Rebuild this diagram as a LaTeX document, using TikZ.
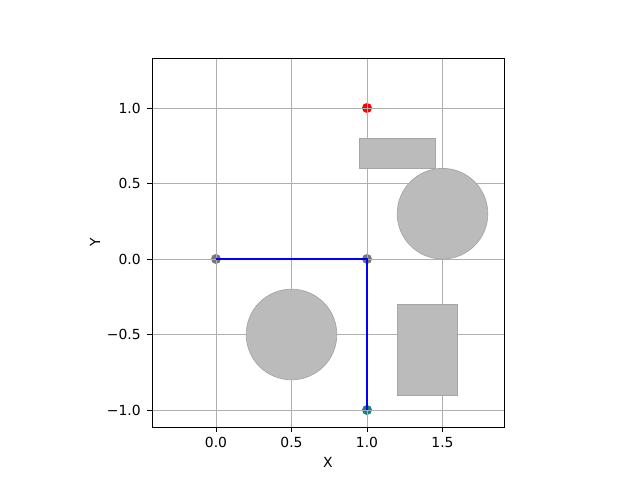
\documentclass[tikz,border=0pt]{standalone}
\usepackage{fontspec}
\setmainfont{DejaVu Sans}
\definecolor{gridgray}{HTML}{B0B0B0}
\definecolor{obsfill}{HTML}{BBBBBB}
\definecolor{obsedge}{HTML}{A6A6A6}
\definecolor{wpgray}{HTML}{767676}
\definecolor{startteal}{HTML}{1A7F80}

\begin{document}
\begin{tikzpicture}[x=3.02cm,y=3.02cm,font=\fontsize{7.9}{9.5}\selectfont]

  \tikzstyle{gridline}=[draw=gridgray,line width=0.45pt]
  \tikzstyle{spine}=[draw=black,line width=0.45pt]
  \tikzstyle{obstacle}=[fill=obsfill,draw=obsedge,line width=0.4pt]
  \tikzstyle{waypoint}=[circle,inner sep=0pt,minimum size=0.2cm]
  \tikzstyle{route}=[draw=blue,line width=0.85pt]
  \tikzstyle{ticklabel}=[inner sep=0pt]

  \useasboundingbox (-1.4305,-1.4636) rectangle (2.8079,1.7152);

  % waypoints (grid is drawn over them)
  \node[waypoint,fill=wpgray]    (home)  at (0,0)  {};
  \node[waypoint,fill=wpgray]    (turn)  at (1,0)  {};
  \node[waypoint,fill=startteal] (start) at (1,-1) {};
  \node[waypoint,fill=red]       (goal)  at (1,1)  {};

  % grid
  \foreach \gx in {0,0.5,1,1.5}
    \draw[gridline] (\gx,-1.113) -- (\gx,1.331);
  \foreach \gy in {-1,-0.5,0,0.5,1}
    \draw[gridline] (-0.424,\gy) -- (1.907,\gy);

  % obstacles
  \draw[obstacle] (0.95,0.6) rectangle (1.45,0.8);
  \draw[obstacle] (1.5,0.3) circle (0.3);
  \draw[obstacle] (0.5,-0.5) circle (0.3);
  \draw[obstacle] (1.2,-0.9) rectangle (1.6,-0.3);

  % planned route
  \draw[route] (home.center) -- (turn.center) -- (start.center);

  % axes
  \draw[spine] (-0.424,-1.113) rectangle (1.907,1.331);
  \foreach \gx/\lab in {0/0.0,0.5/0.5,1/1.0,1.5/1.5} {
    \draw[spine] (\gx,-1.113) -- ++(0,-0.0322);
    \node[ticklabel,anchor=north] at (\gx,-1.178) {\lab};
  }
  \foreach \gy/\lab in {-1/−1.0,-0.5/−0.5,0/0.0,0.5/0.5,1/1.0} {
    \draw[spine] (-0.424,\gy) -- ++(-0.0322,0);
    \node[ticklabel,anchor=east] at (-0.497,\gy) {\lab};
  }
  \node (xlabel) at (0.7415,-1.348) {X};
  \node[rotate=90] (ylabel) at (-0.801,0.109) {Y};

\end{tikzpicture}
\end{document}
